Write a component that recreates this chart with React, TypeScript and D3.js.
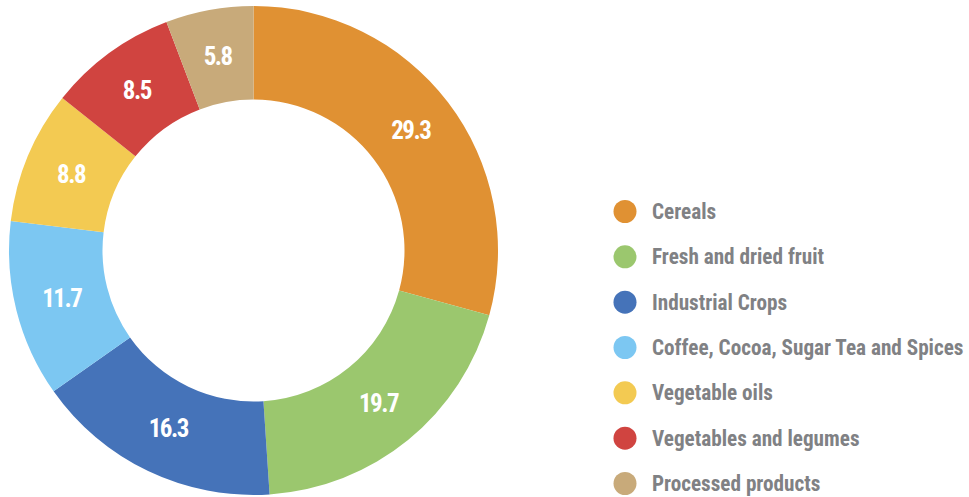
import React from "react";
import * as d3 from "d3";

const categories = [
  "Cereals",
  "Fresh and dried fruit",
  "Industrial Crops",
  "Coffee, Cocoa, Sugar Tea and Spices",
  "Vegetable oils",
  "Vegetables and legumes",
  "Processed products",
];
const values = [29.3, 19.7, 16.3, 11.7, 8.8, 8.5, 5.8];
const colors = ["#E09133", "#9BC76E", "#4573B9", "#7CC7F2", "#F3CA52", "#D04440", "#C8AA7A"];

const W = 969;
const H = 497;
const cx = 253.5;
const cy = 250.5;
const R = 244.5;
const r = 151;
const FONT = "'Liberation Sans Narrow', 'Roboto Condensed', 'Arial Narrow', sans-serif";

export default function App() {
  const data = categories.map((c, i) => ({ name: c, value: values[i], color: colors[i] }));
  const pie = d3.pie<any>().sort(null).value((d: any) => d.value);
  const arcs = pie(data);
  const arc = d3.arc<any>().innerRadius(r).outerRadius(R);
  const legendY = d3.scalePoint<string>().domain(categories).range([211.5, 483.5]);

  return (
    <svg width={W} height={H} style={{ position: "absolute", left: 0, top: 0, background: "#fff" }}>
      <g transform={`translate(${cx},${cy})`}>
        {arcs.map((a, i) => (
          <path key={i} d={arc(a) as string} fill={a.data.color} />
        ))}
        {arcs.map((a, i) => {
          const [x, y] = arc.centroid(a);
          return (
            <text
              key={"t" + i}
              x={x}
              y={y}
              textAnchor="middle"
              dominantBaseline="central"
              fill="#fff"
              fontFamily={FONT}
              fontWeight="bold"
              fontSize={25}
              letterSpacing={-1.5}
            >
              {a.data.value.toFixed(1)}
            </text>
          );
        })}
      </g>
      {categories.map((c, i) => (
        <g key={"l" + i} transform={`translate(0,${legendY(c)})`}>
          <circle cx={625} cy={0} r={11.5} fill={colors[i]} />
          <text
            x={652}
            y={0}
            dominantBaseline="central"
            fill="#808184"
            fontFamily={FONT}
            fontWeight="bold"
            fontSize={21.2}
          >
            {c}
          </text>
        </g>
      ))}
    </svg>
  );
}
